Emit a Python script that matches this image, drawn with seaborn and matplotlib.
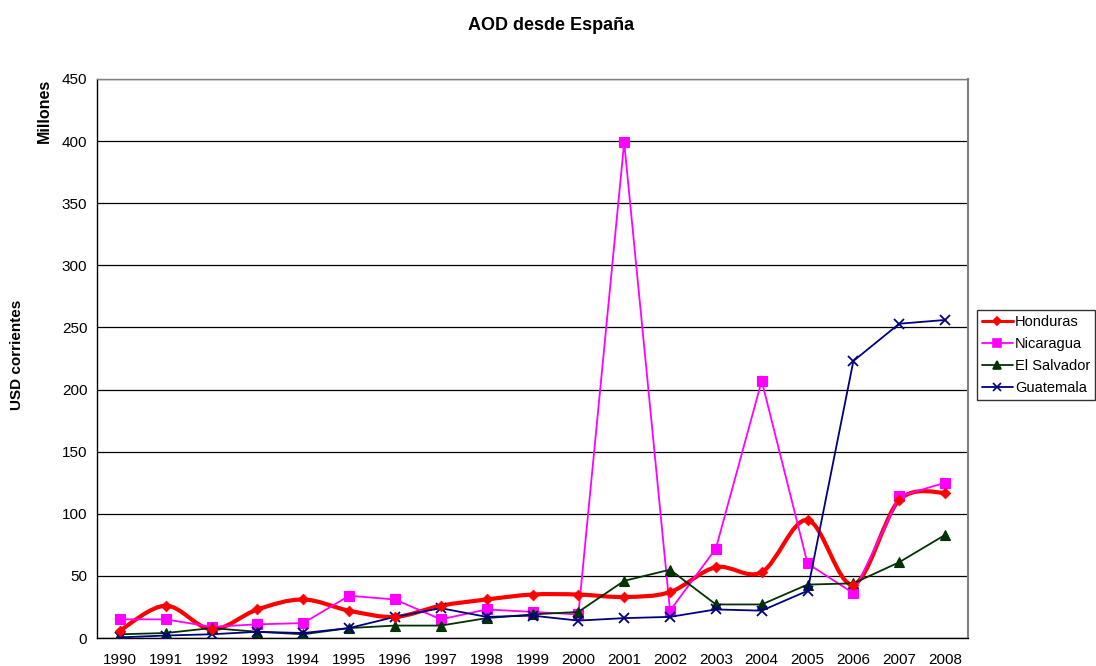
import numpy as np
import pandas as pd
import matplotlib
matplotlib.use("Agg")
import matplotlib.pyplot as plt
import seaborn as sns
from matplotlib.path import Path
from matplotlib.patches import PathPatch
from matplotlib.lines import Line2D

# -----------------------------
# Data (millones USD corrientes)
# -----------------------------
years = list(range(1990, 2009))
honduras = [6, 26, 7, 23, 31, 22, 17, 26, 31, 35, 35, 33, 37, 57, 53, 95, 43, 111, 117]
nicaragua = [15, 15, 9, 11, 12, 34, 31, 15, 23, 21, 19, 399, 22, 72, 207, 60, 36, 114, 125]
el_salvador = [3, 4, 8, 5, 3, 8, 10, 10, 16, 19, 21, 46, 55, 27, 27, 43, 44, 61, 83]
guatemala = [0.5, 2, 3, 5, 4, 8, 17, 24, 17, 18, 14, 16, 17, 23, 22, 38, 223, 253, 256]

series_names = ["Honduras", "Nicaragua", "El Salvador", "Guatemala"]
series_values = [honduras, nicaragua, el_salvador, guatemala]
y_ticks = list(range(0, 451, 50))

df = pd.DataFrame({"year": years})
for name, vals in zip(series_names, series_values):
    df[name] = vals

# -----------------------------
# Styles
# -----------------------------
styles = {
    "Honduras": dict(color="#FF0000", marker="D", ms=5.5, lw=3.0),
    "Nicaragua": dict(color="#FF00FF", marker="s", ms=7.5, lw=1.3),
    "El Salvador": dict(color="#003300", marker="^", ms=7.5, lw=1.3),
    "Guatemala": dict(color="#000080", marker="x", ms=7, lw=1.3),
}


def smooth_path(x, y):
    # Excel-like smoothed line: cubic bezier through points
    x = np.asarray(x, float)
    y = np.asarray(y, float)
    n = len(x)
    verts = [(x[0], y[0])]
    codes = [Path.MOVETO]
    for i in range(n - 1):
        x0, y0 = (x[i - 1], y[i - 1]) if i > 0 else (x[i], y[i])
        x3, y3 = (x[i + 2], y[i + 2]) if i + 2 < n else (x[i + 1], y[i + 1])
        c1 = (x[i] + (x[i + 1] - x0) / 6, y[i] + (y[i + 1] - y0) / 6)
        c2 = (x[i + 1] - (x3 - x[i]) / 6, y[i + 1] - (y3 - y[i]) / 6)
        verts += [c1, c2, (x[i + 1], y[i + 1])]
        codes += [Path.CURVE4] * 3
    return Path(verts, codes)


sns.set_style("white")
plt.rcParams["font.family"] = ["Liberation Sans", "DejaVu Sans"]
plt.rcParams.update({"text.color": "black", "xtick.color": "black",
                     "ytick.color": "black", "axes.labelcolor": "black"})

fig = plt.figure(figsize=(10.96, 6.66), dpi=100)
ax = fig.add_axes([97 / 1096, 28 / 666, 871 / 1096, 559 / 666])

for name in series_names:
    st = styles[name]
    if name == "Honduras":
        ax.add_patch(PathPatch(smooth_path(df["year"], df[name]), fill=False,
                               edgecolor=st["color"], lw=st["lw"], zorder=3))
        sns.scatterplot(data=df, x="year", y=name, marker="D", color=st["color"],
                        s=st["ms"] ** 2, edgecolor=st["color"], ax=ax, zorder=4)
    else:
        sns.lineplot(data=df, x="year", y=name, color=st["color"], marker=st["marker"],
                     markersize=st["ms"], markeredgecolor=st["color"],
                     markeredgewidth=1.3 if st["marker"] == "x" else 0.8,
                     lw=st["lw"], ax=ax, zorder=3)

ax.set_xlim(1989.5, 2008.5)
ax.set_ylim(0, 450)
ax.set_yticks(y_ticks)
ax.set_xticks(years)
ax.set_xticklabels([str(y) for y in years])
ax.set_xticks(np.arange(1989.5, 2009, 1), minor=True)
ax.tick_params(axis="x", which="major", length=0, pad=11, labelsize=11)
ax.tick_params(axis="x", which="minor", length=5, width=1, color="black", direction="out")
ax.tick_params(axis="y", length=5, width=1, color="black", direction="out", labelsize=11, pad=2)
ax.yaxis.grid(True, color="black", lw=0.9)
ax.set_axisbelow(True)
ax.set_xlabel("")
ax.set_ylabel("")

for side in ["left", "bottom"]:
    ax.spines[side].set_color("black")
    ax.spines[side].set_linewidth(1)
ax.spines["right"].set_color("#808080")
ax.spines["right"].set_linewidth(1.5)
ax.spines["top"].set_color("#808080")
ax.spines["top"].set_linewidth(1)

fig.text(551 / 1096, 1 - 25 / 666, "AOD desde España", ha="center", va="center",
         fontsize=13, fontweight="bold")
fig.text(17 / 1096, 1 - 355 / 666, "USD corrientes", rotation=90, ha="center", va="center",
         fontsize=11, fontweight="bold")
fig.text(44 / 1096, 1 - 111 / 666, "Millones", rotation=90, ha="center", va="center",
         fontsize=11.5, fontweight="bold")

handles = []
for name in series_names:
    st = styles[name]
    handles.append(Line2D([], [], color=st["color"], marker=st["marker"], lw=2.2 if name == "Honduras" else 1.3,
                          markersize=6 if st["marker"] != "D" else 4.5,
                          markeredgecolor=st["color"], markeredgewidth=1.2))
leg = fig.legend(handles, series_names, loc="upper left",
                 bbox_to_anchor=(977 / 1096, 1 - 310 / 666), fontsize=10.5,
                 frameon=True, fancybox=False, edgecolor="black", borderpad=0.35,
                 handlelength=2.1, handletextpad=0.15, labelspacing=0.55, borderaxespad=0)
leg.get_frame().set_linewidth(1)

fig.savefig("out.png", dpi=100)
